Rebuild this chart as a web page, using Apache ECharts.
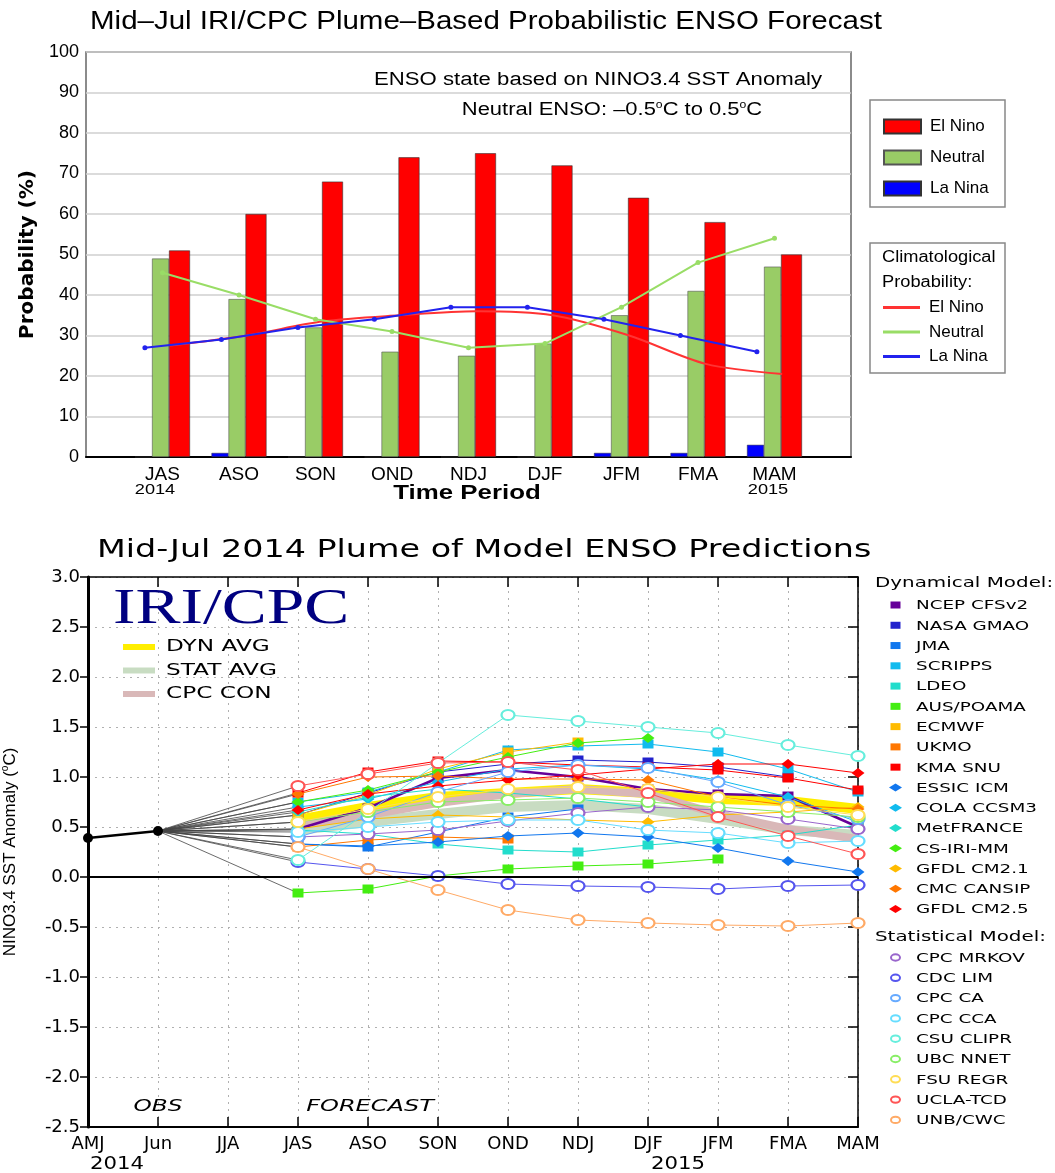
<!DOCTYPE html>
<html>
<head>
<meta charset="utf-8">
<title>Mid-Jul 2014 ENSO Forecast</title>
<script src="https://cdn.jsdelivr.net/npm/echarts@6/dist/echarts.min.js"></script>
<style>
  html, body { margin: 0; padding: 0; background: #fff; }
  #chart { width: 1055px; height: 1173px; }
</style>
</head>
<body>
<div id="chart"></div>
<script>
// ---- top panel: probabilistic forecast ----
const periods = ['JAS', 'ASO', 'SON', 'OND', 'NDJ', 'DJF', 'JFM', 'FMA', 'MAM']
const elNinoProb = [51, 60, 68, 74, 75, 72, 64, 58, 50]
const neutralProb = [49, 39, 32, 26, 25, 28, 35, 41, 47]
const laNinaProb = [0, 1, 0, 0, 0, 0, 1, 1, 3]
const climElNino = [27.5, 30, 33.5, 35, 36, 35, 30, 23, 20.5]
const climNeutral = [45.5, 40, 34, 31, 27, 28, 37, 48, 54]
const climLaNina = [27, 29, 32, 34, 37, 37, 34, 30, 26]

// ---- bottom panel: model plume ----
const seasons = ['AMJ', 'Jun', 'JJA', 'JAS', 'ASO', 'SON', 'OND', 'NDJ', 'DJF', 'JFM', 'FMA', 'MAM']
const observed = [0.39, 0.46]

// dynamical models, values from JAS on
const ncepCfsv2 = [0.48, 0.69, 0.99, 1.07, 1.00, 0.88, 0.83, 0.81, 0.50]
const nasaGmao = [0.62, 0.84, 1.05, 1.13, 1.17, 1.15, 1.10, 1.00]
const jma = [0.33, 0.30, 0.45, 0.60, 0.68]
const scripps = [0.75, 0.85, 1.05, 1.27, 1.31, 1.33, 1.25, 1.08, 0.85]
const ldeo = [0.47, 0.43, 0.33, 0.27, 0.25, 0.32, 0.37, 0.42, 0.52]
const ausPoama = [-0.16, -0.12, 0.01, 0.08, 0.11, 0.13, 0.18]
const ecmwf = [0.62, 0.82, 1.08, 1.25, 1.35]
const ukmo = [0.30, 0.37, 0.40, 0.38]
const kmaSnu = [0.84, 1.05, 1.16, 1.15, 1.12, 1.10, 1.07, 0.99, 0.87]
const essicIcm = [0.33, 0.31, 0.35, 0.41, 0.44, 0.40, 0.29, 0.16, 0.05]
const colaCcsm3 = [0.70, 0.78, 0.95, 1.08, 1.12, 1.08, 0.97, 0.80, 0.55]
const metFrance = [0.65, 0.80, 0.88, 0.84, 0.78, 0.70]
const csIriMm = [0.75, 0.87, 1.05, 1.20, 1.34, 1.39]
const gfdlCm21 = [0.48, 0.58, 0.62, 0.60, 0.57, 0.55, 0.62, 0.65, 0.70]
const cmcCansip = [0.83, 1.00, 1.01, 0.98, 0.98, 0.97, 0.80, 0.72, 0.68]
const gfdlCm25 = [0.67, 0.83, 0.91, 0.97, 1.02, 1.08, 1.13, 1.13, 1.04]

// statistical models
const cpcMrkov = [0.40, 0.43, 0.47, 0.56, 0.64, 0.70, 0.67, 0.58, 0.48]
const cdcLim = [0.15, 0.08, 0.01, -0.07, -0.09, -0.10, -0.12, -0.09, -0.08]
const cpcCa = [0.40, 0.60, 0.85, 1.05, 1.12, 1.09, 0.95, 0.72, 0.58]
const cpcCca = [0.45, 0.50, 0.55, 0.57, 0.57, 0.47, 0.44, 0.34, 0.36]
const csuClipr = [0.17, 0.65, 1.14, 1.62, 1.56, 1.50, 1.44, 1.32, 1.21]
const ubcNnet = [0.55, 0.65, 0.75, 0.77, 0.79, 0.75, 0.70, 0.65, 0.60]
const fsuRegr = [0.55, 0.68, 0.80, 0.88, 0.90, 0.88, 0.80, 0.70, 0.62]
const uclaTcd = [0.91, 1.03, 1.14, 1.15, 1.07, 0.84, 0.60, 0.41, 0.23]
const unbCwc = [0.30, 0.08, -0.13, -0.33, -0.43, -0.46, -0.48, -0.49, -0.46]

// averages
const dynAvg = [0.57, 0.70, 0.80, 0.84, 0.88, 0.84, 0.78, 0.76, 0.68]
const statAvg = [0.47, 0.55, 0.63, 0.70, 0.72, 0.68, 0.58, 0.47, 0.42]
const cpcCon = [0.52, 0.62, 0.74, 0.83, 0.88, 0.83, 0.63, 0.48, 0.38]

const dynNames = ['NCEP CFSv2', 'NASA GMAO', 'JMA', 'SCRIPPS', 'LDEO', 'AUS/POAMA', 'ECMWF', 'UKMO', 'KMA SNU',
  'ESSIC ICM', 'COLA CCSM3', 'MetFRANCE', 'CS-IRI-MM', 'GFDL CM2.1', 'CMC CANSIP', 'GFDL CM2.5']
const dynValues = [ncepCfsv2, nasaGmao, jma, scripps, ldeo, ausPoama, ecmwf, ukmo, kmaSnu,
  essicIcm, colaCcsm3, metFrance, csIriMm, gfdlCm21, cmcCansip, gfdlCm25]
const statNames = ['CPC MRKOV', 'CDC LIM', 'CPC CA', 'CPC CCA', 'CSU CLIPR', 'UBC NNET', 'FSU REGR', 'UCLA-TCD', 'UNB/CWC']
const statValues = [cpcMrkov, cdcLim, cpcCa, cpcCca, csuClipr, ubcNnet, fsuRegr, uclaTcd, unbCwc]
const avgNames = ['DYN AVG', 'STAT AVG', 'CPC CON']
const avgValues = [dynAvg, statAvg, cpcCon]

const dynColors = ['#660099', '#2222cc', '#1177ee', '#11bbee', '#22ddcc', '#44ee11', '#ffbb00', '#ff7700', '#ff0000',
  '#1177ee', '#11bbee', '#22ddcc', '#44ee11', '#ffbb00', '#ff7700', '#ff0000']
const statColors = ['#9966cc', '#5555ee', '#66aaff', '#66ddff', '#66eedd', '#88ee66', '#ffdd55', '#ff5555', '#ffaa66']
const avgColors = ['#ffee00', '#c8dcc2', '#d9b8b8']
const avgWidths = [10, 10, 8]

const TOP_FONT = 'Liberation Sans'
const BOT_FONT = 'DejaVu Sans'

const padEnds = v => [null].concat(v, [null])
const padStart = v => [null, null, null].concat(v)
const shifted = (v, dx) => v.map((y, i) => [i + 1 + dx, y])

// stretched text, the original picture is wider than the fonts we have
function label (x, y, text, font, sx, align, fill) {
  return {
    type: 'text', x: x, y: y, scaleX: sx || 1, z: 10,
    style: { text: text, font: font, fill: fill || '#000', textAlign: align || 'left', textVerticalAlign: 'middle' }
  }
}

const series = []

// top bars
series.push({
  name: 'La Nina', type: 'bar', xAxisIndex: 0, yAxisIndex: 0,
  data: padEnds(laNinaProb), barWidth: 17, barGap: '0%',
  itemStyle: { color: '#0000ff', borderColor: '#333', borderWidth: 0.5 }
})
series.push({
  name: 'Neutral', type: 'bar', xAxisIndex: 0, yAxisIndex: 0,
  data: padEnds(neutralProb), barWidth: 17, barGap: '0%',
  itemStyle: { color: '#99cc66', borderColor: '#555', borderWidth: 0.6 }
})
series.push({
  name: 'El Nino', type: 'bar', xAxisIndex: 0, yAxisIndex: 0,
  data: padEnds(elNinoProb), barWidth: 21, barGap: '0%',
  itemStyle: { color: '#ff0000', borderColor: '#333', borderWidth: 0.6 }
})
// climatological lines
series.push({
  name: 'Clim El Nino', type: 'line', xAxisIndex: 1, yAxisIndex: 0, z: 5,
  data: shifted(climElNino, 0.1), smooth: 0.3, symbol: 'none',
  lineStyle: { color: '#ff3333', width: 2 }, itemStyle: { color: '#ff3333' }
})
series.push({
  name: 'Clim Neutral', type: 'line', xAxisIndex: 1, yAxisIndex: 0, z: 5,
  data: shifted(climNeutral, 0), symbol: 'circle', symbolSize: 5,
  lineStyle: { color: '#99dd66', width: 2 }, itemStyle: { color: '#99dd66' }
})
series.push({
  name: 'Clim La Nina', type: 'line', xAxisIndex: 1, yAxisIndex: 0, z: 5,
  data: shifted(climLaNina, -0.23), symbol: 'circle', symbolSize: 5,
  lineStyle: { color: '#2222ee', width: 2 }, itemStyle: { color: '#2222ee' }
})

// bottom: averages
avgNames.forEach((name, i) => {
  series.push({
    name: name, type: 'line', xAxisIndex: 2, yAxisIndex: 1, z: 2,
    data: padStart(avgValues[i]), symbol: 'none',
    lineStyle: { color: avgColors[i], width: avgWidths[i] }, itemStyle: { color: avgColors[i] }
  })
})

// thin connectors from last observation to each model's first season
dynValues.concat(statValues).forEach((v, i) => {
  series.push({
    name: 'link' + i, type: 'line', xAxisIndex: 2, yAxisIndex: 1, z: 2,
    data: [null, observed[1], null, v[0]], connectNulls: true, symbol: 'none',
    lineStyle: { color: '#444', width: 0.8 }, silent: true
  })
})

dynNames.forEach((name, i) => {
  const sym = i < 9 ? 'rect' : 'diamond'
  series.push({
    name: name, type: 'line', xAxisIndex: 2, yAxisIndex: 1, z: 3,
    data: padStart(dynValues[i]), symbol: sym, symbolSize: sym === 'rect' ? [11, 9] : [13, 10],
    lineStyle: { color: dynColors[i], width: i === 0 ? 2.5 : 1 },
    itemStyle: { color: dynColors[i] }
  })
})
statNames.forEach((name, i) => {
  series.push({
    name: name, type: 'line', xAxisIndex: 2, yAxisIndex: 1, z: 3,
    data: padStart(statValues[i]), symbol: 'emptyCircle', symbolSize: [13, 10],
    lineStyle: { color: statColors[i], width: 1 },
    itemStyle: { color: statColors[i], borderWidth: 2 }
  })
})

// observations
series.push({
  name: 'OBS', type: 'line', xAxisIndex: 2, yAxisIndex: 1, z: 6,
  data: observed, symbol: 'circle', symbolSize: 10,
  lineStyle: { color: '#000', width: 2.5 }, itemStyle: { color: '#000' },
  markLine: {
    silent: true, symbol: 'none', label: { show: false },
    lineStyle: { color: '#000', width: 2, type: 'solid' },
    data: [{ yAxis: 0 }]
  }
})

// bottom legends drawn by hand so the text can be stretched like the original
const legendGraphics = []
const LEG_X = 895.5
function legendIcon (kind, color, y) {
  if (kind === 'rect') {
    return { type: 'rect', z: 10, shape: { x: LEG_X - 5, y: y - 3.5, width: 10, height: 7 }, style: { fill: color } }
  }
  if (kind === 'diamond') {
    return { type: 'polygon', z: 10, shape: { points: [[LEG_X - 6.5, y], [LEG_X, y - 4], [LEG_X + 6.5, y], [LEG_X, y + 4]] }, style: { fill: color } }
  }
  return { type: 'ellipse', z: 10, shape: { cx: LEG_X, cy: y, rx: 4.5, ry: 3.2 }, style: { fill: '#fff', stroke: color, lineWidth: 2 } }
}
legendGraphics.push(label(875, 583, 'Dynamical Model:', '14px "DejaVu Sans"', 1.42))
dynNames.forEach((name, i) => {
  const y = 605 + i * 20.27
  legendGraphics.push(legendIcon(i < 9 ? 'rect' : 'diamond', dynColors[i], y))
  legendGraphics.push(label(916, y + 1, name, '13px "DejaVu Sans"', 1.41))
})
legendGraphics.push(label(875, 937, 'Statistical Model:', '14px "DejaVu Sans"', 1.42))
statNames.forEach((name, i) => {
  const y = 957.5 + i * 20.3
  legendGraphics.push(legendIcon('circle', statColors[i], y))
  legendGraphics.push(label(916, y + 1, name, '13px "DejaVu Sans"', 1.41))
})
avgNames.forEach((name, i) => {
  const y = 647 + i * 23.5
  legendGraphics.push({ type: 'line', z: 10, shape: { x1: 123, y1: y, x2: 155, y2: y }, style: { stroke: avgColors[i], lineWidth: 6 } })
  legendGraphics.push(label(166, y, name, '16px "DejaVu Sans"', 1.45))
})

const dotted = { show: true, lineStyle: { color: '#b0b0b0', type: [2, 5], width: 1 } }
const sup = { fontSize: 10, verticalAlign: 'top', lineHeight: 20 }

const option = {
  backgroundColor: '#fff',
  animation: false,
  grid: [
    { left: 86, top: 52, width: 765, height: 405, show: true, borderColor: '#666', borderWidth: 1.5, outerBoundsMode: 'none', containLabel: false },
    { left: 88, top: 577, width: 770, height: 550, outerBoundsMode: 'none', containLabel: false }
  ],
  xAxis: [
    {
      gridIndex: 0, type: 'category', boundaryGap: false, data: [''].concat(periods, ['']),
      axisLine: { lineStyle: { color: '#000', width: 2 } }, axisTick: { show: false },
      axisLabel: { interval: 0, margin: 8, color: '#000', fontFamily: TOP_FONT, fontSize: 19 }
    },
    { gridIndex: 0, type: 'value', min: 0, max: 10, show: false },
    {
      gridIndex: 1, type: 'category', boundaryGap: false, data: seasons, position: 'bottom',
      axisLine: { onZero: false, lineStyle: { color: '#000', width: 2 } },
      axisTick: { inside: true, length: 10, lineStyle: { color: '#000', width: 1.5 } },
      axisLabel: { interval: 0, margin: 8, color: '#000', fontFamily: BOT_FONT, fontSize: 18 },
      splitLine: dotted
    },
    {
      gridIndex: 1, type: 'category', boundaryGap: false, data: seasons, position: 'top',
      axisLine: { onZero: false, lineStyle: { color: '#000', width: 1.5 } },
      axisTick: { inside: true, length: 10, lineStyle: { color: '#000', width: 1.5 } },
      axisLabel: { show: false }, splitLine: { show: false }
    }
  ],
  yAxis: [
    {
      gridIndex: 0, type: 'value', min: 0, max: 100, interval: 10,
      axisLine: { show: false }, axisTick: { show: false },
      axisLabel: { margin: 7, color: '#000', fontFamily: TOP_FONT, fontSize: 18 },
      splitLine: { lineStyle: { color: '#cfcfcf', width: 1.5 } },
      name: 'Probability (%)', nameLocation: 'middle', nameGap: 48, nameRotate: 90,
      nameTextStyle: { fontFamily: BOT_FONT, fontWeight: 'bold', fontSize: 20, color: '#000' }
    },
    {
      gridIndex: 1, type: 'value', min: -2.5, max: 3, interval: 0.5, position: 'left',
      axisLine: { show: true, lineStyle: { color: '#000', width: 3 } },
      axisTick: { show: true, length: 8, lineStyle: { color: '#000', width: 1.5 } },
      axisLabel: { margin: 8, color: '#000', fontFamily: BOT_FONT, fontSize: 18, formatter: v => v.toFixed(1) },
      splitLine: dotted,
      name: '{a|NINO3.4 SST Anomaly (}{s|o}{a|C)}', nameLocation: 'middle', nameGap: 68, nameRotate: 90,
      nameTextStyle: { rich: { a: { fontFamily: TOP_FONT, fontSize: 17, color: '#000', lineHeight: 20 }, s: Object.assign({ fontFamily: TOP_FONT, color: '#000' }, sup) } }
    },
    {
      gridIndex: 1, type: 'value', min: -2.5, max: 3, interval: 0.5, position: 'right',
      axisLine: { show: true, lineStyle: { color: '#000', width: 1.5 } },
      axisTick: { show: true, inside: true, length: 10, lineStyle: { color: '#000', width: 1.5 } },
      axisLabel: { show: false }, splitLine: { show: false }
    }
  ],
  legend: [
    {
      selectedMode: false, orient: 'vertical', left: 883, top: 118, padding: 0, itemWidth: 37, itemHeight: 14, itemGap: 14,
      icon: 'rect', data: ['El Nino', 'Neutral', 'La Nina'],
      textStyle: { fontFamily: TOP_FONT, fontSize: 17, lineHeight: 14, color: '#000', padding: [0, 0, 0, 4] }
    },
    {
      selectedMode: false, orient: 'vertical', left: 883, top: 299, padding: 0, itemWidth: 37, itemHeight: 3, itemGap: 7.5,
      icon: 'rect', data: ['Clim El Nino', 'Clim Neutral', 'Clim La Nina'],
      formatter: n => n.replace('Clim ', ''),
      textStyle: { fontFamily: TOP_FONT, fontSize: 17, lineHeight: 16, color: '#000', padding: [0, 0, 0, 4] }
    }
  ],
  graphic: [
    label(90, 22, 'Mid\u2013Jul IRI/CPC Plume\u2013Based Probabilistic ENSO Forecast', '25px "Liberation Sans"', 1.18),
    label(598, 80, 'ENSO state based on NINO3.4 SST Anomaly', '18px "Liberation Sans"', 1.23, 'center'),
    {
      type: 'text', x: 612, y: 110, scaleX: 1.22,
      style: {
        text: '{a|Neutral ENSO: \u20130.5}{s|o}{a|C to 0.5}{s|o}{a|C}', textAlign: 'center', textVerticalAlign: 'middle',
        rich: { a: { fontFamily: TOP_FONT, fontSize: 18, color: '#000', lineHeight: 20 }, s: Object.assign({ fontFamily: TOP_FONT, color: '#000' }, sup) }
      }
    },
    { type: 'rect', shape: { x: 870, y: 100, width: 135, height: 107 }, style: { fill: 'none', stroke: '#888', lineWidth: 1.5 } },
    { type: 'rect', shape: { x: 870, y: 243, width: 135, height: 130 }, style: { fill: 'none', stroke: '#888', lineWidth: 1.5 } },
    label(882, 258, 'Climatological', '16px "Liberation Sans"', 1.14),
    label(882, 283, 'Probability:', '16px "Liberation Sans"', 1.14),
    label(155, 490, '2014', '14px "Liberation Sans"', 1.3, 'center'),
    label(768, 490, '2015', '14px "Liberation Sans"', 1.3, 'center'),
    label(467, 493, 'Time Period', 'bold 21px "Liberation Sans"', 1.23, 'center'),

    label(97, 551, 'Mid-Jul 2014 Plume of Model ENSO Predictions', '24px "DejaVu Sans"', 1.39),
    label(113, 610, 'IRI/CPC', '50px "Liberation Serif"', 1.35, 'left', '#000080'),
    label(158, 1107, 'OBS', 'italic 16px "DejaVu Sans"', 1.45, 'center'),
    label(370, 1107, 'FORECAST', 'italic 16px "DejaVu Sans"', 1.5, 'center'),
    label(117, 1165, '2014', '17px "DejaVu Sans"', 1.25, 'center'),
    label(678, 1165, '2015', '17px "DejaVu Sans"', 1.25, 'center')
  ].concat(legendGraphics),
  series: series
}

const chart = echarts.init(document.getElementById('chart'))
chart.setOption(option)
</script>
</body>
</html>
